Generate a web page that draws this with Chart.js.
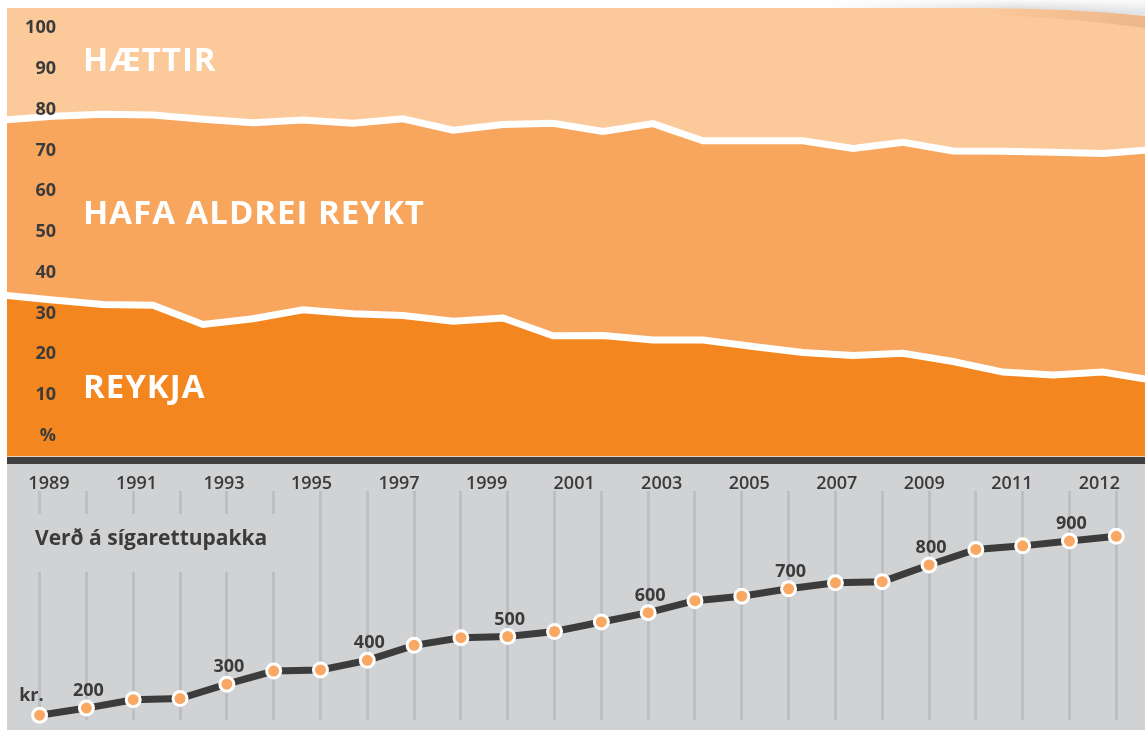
<!DOCTYPE html>
<html lang="is">
<head>
<meta charset="utf-8">
<title>Reykingar og verð á sígarettupakka</title>
<script src="https://cdn.jsdelivr.net/npm/chart.js@4.4.1/dist/chart.umd.min.js"></script>
<style>
  html, body { margin: 0; padding: 0; background: #fff; }
  body { width: 1145px; height: 730px; position: relative; overflow: hidden; }
  #share-wrap { position: absolute; left: 0; top: 0; width: 1145px; height: 456px; }
  #rule { position: absolute; left: 7px; top: 456px; width: 1138px; height: 8px; background: #3f3f3f;
          border-top: 1px solid #ead3bd; box-sizing: border-box; }
  #price-wrap { position: absolute; left: 7px; top: 464px; width: 1138px; height: 266px; background: #d1d2d4; }
</style>
</head>
<body>
<div id="share-wrap"><canvas id="share-chart"></canvas></div>
<div id="rule"></div>
<div id="price-wrap"><canvas id="price-chart"></canvas></div>

<script>
// Hlutfall fullorðinna (%) eftir reykingum, 1989-2012
const years = [1989, 1990, 1991, 1992, 1993, 1994, 1995, 1996, 1997, 1998, 1999, 2000,
               2001, 2002, 2003, 2004, 2005, 2006, 2007, 2008, 2009, 2010, 2011, 2012];
const smokers = [34.5, 33.3, 32.2, 32.0, 27.3, 28.7, 30.9, 29.9, 29.5, 28.1, 28.9, 24.5,
                 24.6, 23.5, 23.5, 21.9, 20.4, 19.7, 20.2, 18.2, 15.6, 14.9, 15.6, 13.6];
const neverSmoked = [43.0, 45.1, 46.7, 46.7, 50.4, 48.1, 46.6, 46.8, 48.3, 46.9, 47.5, 52.2,
                     50.1, 53.1, 48.9, 50.5, 52.0, 50.8, 51.8, 51.7, 54.2, 54.7, 53.7, 56.6];
const quitters = [22.5, 21.6, 21.1, 21.3, 22.3, 23.2, 22.5, 23.3, 22.2, 25.0, 23.6, 23.3,
                  25.3, 23.4, 27.6, 27.6, 27.6, 29.5, 28.0, 30.1, 30.2, 30.4, 30.7, 29.8];
const shareTicks = [0, 10, 20, 30, 40, 50, 60, 70, 80, 90, 100];

// Verð á sígarettupakka (kr.)
const prices = [170, 200, 235, 240, 300, 355, 360, 400, 463, 495, 500, 521,
                561, 600, 650, 669, 700, 725, 730, 800, 865, 880, 900, 920];
const labeledPoints = [1, 4, 7, 10, 13, 16, 19, 22];
const yearTicks = ["1989", "1991", "1993", "1995", "1997", "1999", "2001",
                   "2003", "2005", "2007", "2009", "2011", "2012"];

const DARK = "#3b3b3b";
const C_SMOKE = "#f3861f";
const C_NEVER = "#f8a65e";
const C_QUIT = "#fcc99b";

Chart.defaults.font.family = '"Open Sans", sans-serif';

const pts = arr => years.map((yr, i) => ({ x: yr, y: arr[i] }));

// light band behind everything, so the strip above 100 is filled too
const bandBg = {
  id: "bandBg",
  beforeDatasetsDraw(chart) {
    const { ctx, chartArea: a } = chart;
    ctx.save();
    ctx.fillStyle = C_QUIT;
    ctx.fillRect(a.left, a.top, a.right - a.left, a.bottom - a.top);
    ctx.restore();
  },
};

// percent ticks sit inside the plot, right-aligned
const shareAxisLabels = {
  id: "shareAxisLabels",
  afterDatasetsDraw(chart) {
    const { ctx } = chart;
    const y = chart.scales.y;
    ctx.save();
    ctx.fillStyle = DARK;
    ctx.font = 'bold 18px "Open Sans"';
    ctx.textAlign = "right";
    ctx.textBaseline = "middle";
    shareTicks.forEach(v => {
      ctx.fillText(v === 0 ? "%" : String(v), 56, y.getPixelForValue(v));
    });
    ctx.restore();
  },
};

const bandLabels = {
  id: "bandLabels",
  afterDatasetsDraw(chart) {
    const { ctx } = chart;
    ctx.save();
    ctx.fillStyle = "#fff";
    ctx.font = 'bold 33px "Open Sans"';
    ctx.letterSpacing = "1px";
    ctx.textBaseline = "alphabetic";
    ctx.fillText("HÆTTIR", 83, 71);
    ctx.fillText("HAFA ALDREI REYKT", 83, 224);
    ctx.fillText("REYKJA", 83, 398);
    ctx.restore();
  },
};

// lifted paper corner at the top right
const cornerShade = {
  id: "cornerShade",
  afterDraw(chart) {
    const { ctx } = chart;
    ctx.save();
    ctx.beginPath();
    ctx.moveTo(980, 8);
    ctx.quadraticCurveTo(1070, 8, 1145, 16);
    ctx.lineTo(1145, 0);
    ctx.lineTo(980, 0);
    ctx.closePath();
    ctx.fillStyle = "#fff";
    ctx.fill();

    ctx.beginPath();
    ctx.moveTo(820, 8);
    ctx.lineTo(980, 8);
    ctx.quadraticCurveTo(1070, 8, 1145, 16);
    ctx.lineTo(1145, 0);
    ctx.lineTo(820, 0);
    ctx.closePath();
    const g = ctx.createLinearGradient(820, 0, 1145, 0);
    g.addColorStop(0, "rgba(165,168,175,0)");
    g.addColorStop(0.6, "rgba(165,168,175,0.55)");
    g.addColorStop(1, "rgba(165,168,175,0.3)");
    ctx.fillStyle = g;
    ctx.fill();
    const v = ctx.createLinearGradient(0, 0, 0, 13);
    v.addColorStop(0, "rgba(255,255,255,0.9)");
    v.addColorStop(1, "rgba(255,255,255,0)");
    ctx.fillStyle = v;
    ctx.fill();

    // shade on the band just under the lifted edge
    ctx.beginPath();
    ctx.moveTo(980, 8);
    ctx.quadraticCurveTo(1070, 8, 1145, 16);
    ctx.lineTo(1145, 28);
    ctx.quadraticCurveTo(1070, 18, 980, 14);
    ctx.closePath();
    const s = ctx.createLinearGradient(980, 0, 1145, 0);
    s.addColorStop(0, "rgba(190,130,80,0)");
    s.addColorStop(1, "rgba(190,130,80,0.25)");
    ctx.fillStyle = s;
    ctx.fill();
    ctx.restore();
  },
};

new Chart(document.getElementById("share-chart"), {
  type: "line",
  data: {
    datasets: [
      {
        label: "Reykja",
        data: pts(smokers),
        backgroundColor: C_SMOKE,
        borderColor: "#fff",
        borderWidth: 7,
        fill: "start",
      },
      {
        label: "Hafa aldrei reykt",
        data: pts(neverSmoked),
        backgroundColor: C_NEVER,
        borderColor: "#fff",
        borderWidth: 7,
        fill: "-1",
      },
      {
        label: "Hættir",
        data: pts(quitters),
        backgroundColor: C_QUIT,
        borderWidth: 0,
        fill: "-1",
      },
    ],
  },
  options: {
    animation: false,
    responsive: true,
    maintainAspectRatio: false,
    layout: { padding: { left: 7, top: 8, right: 0, bottom: 0 } },
    elements: {
      point: { radius: 0, hoverRadius: 0 },
      line: { tension: 0, borderJoinStyle: "miter" },
    },
    datasets: { line: { clip: 0 } },
    plugins: { legend: { display: false }, tooltip: { enabled: false } },
    scales: {
      x: { type: "linear", display: false, min: 1989.08, max: 2011.84 },
      y: { type: "linear", display: false, stacked: true, min: -5, max: 105 },
    },
  },
  plugins: [bandBg, bandLabels, shareAxisLabels, cornerShade],
});

// title sits in a gap cut out of the grid lines
const priceTitle = {
  id: "priceTitle",
  beforeDatasetsDraw(chart) {
    const { ctx } = chart;
    ctx.save();
    ctx.fillStyle = "#d1d2d4";
    ctx.fillRect(0, 50, 283, 58);
    ctx.fillStyle = DARK;
    ctx.font = 'bold 21px "Open Sans"';
    ctx.textBaseline = "alphabetic";
    ctx.fillText("Verð á sígarettupakka", 28, 81);
    ctx.restore();
  },
};

const priceLabels = {
  id: "priceLabels",
  afterDatasetsDraw(chart) {
    const { ctx } = chart;
    const marks = chart.getDatasetMeta(0).data;
    ctx.save();
    ctx.fillStyle = DARK;
    ctx.font = 'bold 18px "Open Sans"';
    ctx.textBaseline = "alphabetic";
    ctx.textAlign = "center";
    labeledPoints.forEach(i => {
      ctx.fillText(String(prices[i]), marks[i].x + 2, marks[i].y - 12);
    });
    ctx.textAlign = "right";
    ctx.fillText("kr.", marks[0].x + 4, marks[0].y - 14);
    ctx.restore();
  },
};

new Chart(document.getElementById("price-chart"), {
  type: "line",
  data: {
    datasets: [{
      label: "Verð",
      data: pts(prices),
      borderColor: "#3c3c3c",
      borderWidth: 7,
      pointRadius: 7,
      pointHoverRadius: 7,
      pointBorderWidth: 3,
      pointBackgroundColor: "#f8a862",
      pointBorderColor: "#fff",
      tension: 0,
      clip: false,
    }],
  },
  options: {
    animation: false,
    responsive: true,
    maintainAspectRatio: false,
    layout: { padding: 0 },
    plugins: { legend: { display: false }, tooltip: { enabled: false } },
    scales: {
      x: {
        type: "linear",
        min: 1988.517,
        max: 2012.4,
        grid: { color: "#bebfc2", lineWidth: 3, drawTicks: false },
        border: { display: false },
        ticks: { display: false },
        afterBuildTicks: s => { s.ticks = years.map(v => ({ value: v })); },
        afterFit: s => { s.height = 0; },
      },
      yearAxis: {
        type: "linear",
        axis: "x",
        position: "top",
        min: -0.3648,
        max: 12.407,
        grid: { display: false, drawTicks: false, tickLength: 0 },
        border: { display: false },
        ticks: {
          padding: -4,
          maxRotation: 0,
          autoSkip: false,
          color: DARK,
          font: { size: 18, weight: "600" },
          callback: v => yearTicks[v],
        },
        afterBuildTicks: s => { s.ticks = yearTicks.map((_, i) => ({ value: i })); },
        afterFit: s => { s.height = 27; },
      },
      y: { type: "linear", display: false, min: 150, max: 1110 },
    },
  },
  plugins: [priceTitle, priceLabels],
});
</script>
</body>
</html>
